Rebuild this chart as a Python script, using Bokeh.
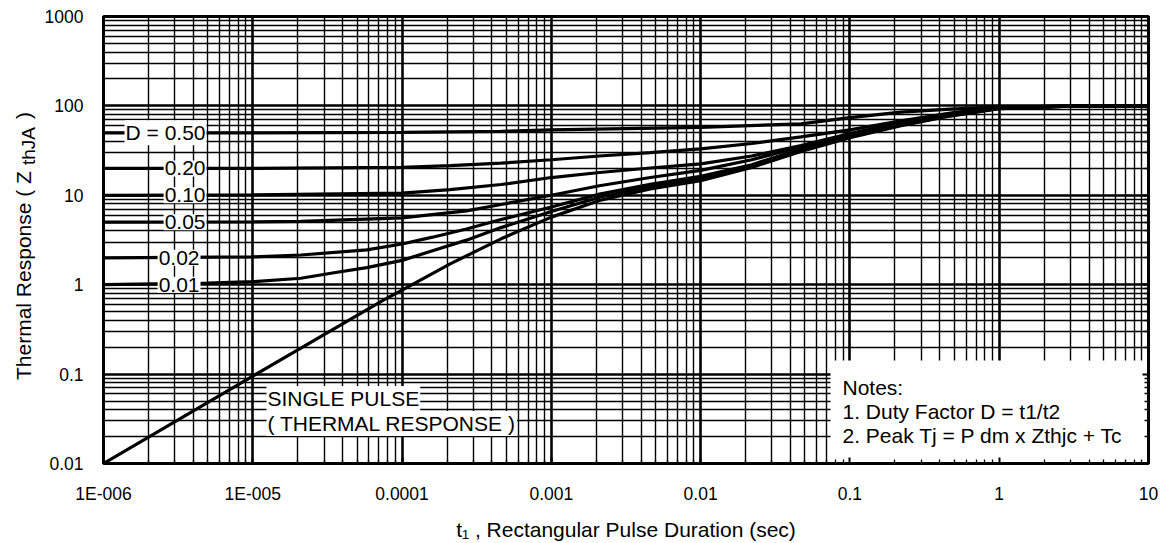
from bokeh.plotting import figure
from bokeh.layouts import row
from bokeh.models import FixedTicker, Label, LogAxis, BoxAnnotation, CustomJSTickFormatter, Range1d
from bokeh.embed import file_html
from bokeh.resources import INLINE
import math

# ---------------- data ----------------
t_d50 = [1e-6, 1e-5, 1e-4, 4.6e-4, 1e-3, 1e-2, 4.7e-2, 0.1, 0.22, 0.47, 1, 3, 10]
z_d50 = [50, 50, 50.5, 52, 54, 57.5, 63, 74, 85, 92, 97, 99.5, 100]

t_d20 = [1e-6, 1e-5, 1e-4, 2.1e-4, 4.6e-4, 1e-3, 2.1e-3, 4.6e-3, 1e-2, 2.2e-2, 4.7e-2, 0.1, 0.22, 0.47, 1, 3, 10]
z_d20 = [20, 20, 20.5, 21.5, 22.9, 25, 27.5, 30, 33, 38, 45, 54, 68, 83, 96, 99.5, 100]

t_d10 = [1e-6, 1e-5, 1e-4, 2.1e-4, 4.6e-4, 1e-3, 2.1e-3, 4.6e-3, 1e-2, 2.2e-2, 4.7e-2, 0.1, 0.22, 0.47, 1, 3, 10]
z_d10 = [10, 10.1, 10.6, 11.6, 13.2, 15.8, 18, 20.2, 22.5, 27.5, 36, 49, 65, 82, 96, 99.5, 100]

t_d05 = [1e-6, 1e-5, 2.1e-5, 1e-4, 2.7e-4, 4.6e-4, 1e-3, 2.1e-3, 4.6e-3, 1e-2, 2.2e-2, 4.7e-2, 0.1, 0.22, 0.47, 1, 3, 10]
z_d05 = [5, 5.05, 5.1, 5.6, 6.7, 7.9, 10, 12.8, 15.8, 19, 25, 35, 47, 63, 80, 95, 99.5, 100]

t_d02 = [1e-6, 1e-5, 2.1e-5, 5.8e-5, 1e-4, 1.6e-4, 2.7e-4, 4.6e-4, 1e-3, 2.1e-3, 4.6e-3, 1e-2, 2.2e-2, 4.7e-2, 0.1, 0.22, 0.47, 1, 3, 10]
z_d02 = [2, 2.05, 2.15, 2.45, 2.85, 3.4, 4.2, 5.36, 7.4, 10.3, 13.3, 16.3, 22, 33, 45.5, 62, 79, 94.5, 99.5, 100]

t_d01 = [1e-6, 5e-6, 1e-5, 2.1e-5, 3.5e-5, 5.8e-5, 1e-4, 1.6e-4, 2.7e-4, 4.6e-4, 1e-3, 2.1e-3, 4.6e-3, 1e-2, 2.2e-2, 4.7e-2, 0.1, 0.22, 0.47, 1, 3, 10]
z_d01 = [1, 1.04, 1.08, 1.18, 1.36, 1.55, 1.87, 2.4, 3.15, 4.35, 6.6, 9.5, 12.6, 15.4, 21, 32, 45, 61, 78, 94, 99.5, 100]

t_single = [1e-6, 1e-5, 7.4e-5, 1e-4, 2.1e-4, 4.6e-4, 1e-3, 2.1e-3, 4.6e-3, 1e-2, 2.2e-2, 4.7e-2, 0.1, 0.22, 0.47, 1, 3, 10]
z_single = [0.01, 0.095, 0.665, 0.87, 1.71, 3.26, 5.7, 8.75, 11.8, 14.6, 20.5, 31, 44, 60, 77, 93, 99.5, 100]

duty_labels = ["D = 0.50", "0.20", "0.10", "0.05", "0.02", "0.01"]
duty_levels = [50, 20, 10, 5, 2, 1]

x_ticks = [1e-6, 1e-5, 1e-4, 1e-3, 1e-2, 1e-1, 1, 10]
x_tick_labels = ["1E-006", "1E-005", "0.0001", "0.001", "0.01", "0.1", "1", "10"]
y_ticks = [0.01, 0.1, 1, 10, 100, 1000]
y_tick_labels = ["0.01", "0.1", "1", "10", "100", "1000"]

single_label = ["SINGLE PULSE", "( THERMAL RESPONSE )"]
notes_lines = ["Notes:", "1. Duty Factor D = t1/t2", "2. Peak Tj = P dm x Zthjc + Tc"]

x_title = "t\u2081 , Rectangular Pulse Duration (sec)"
y_title = ["Thermal Response ( Z", "thJA", ")"]

# ---------------- layout ----------------
W, H = 1169, 543
YW = 40            # strip at the left for the y title
FL, FR, FT, FB = 103, 1148, 16, 463   # frame in page pixels
XMIN, XMAX, YMIN, YMAX = 1e-6, 10.0, 0.01, 1000.0
FONT = "Liberation Sans"


def dx(px):
    return 10 ** (math.log10(XMIN) + (px - FL) / (FR - FL) * (math.log10(XMAX) - math.log10(XMIN)))


def dy(py):
    return 10 ** (math.log10(YMAX) - (py - FT) / (FB - FT) * (math.log10(YMAX) - math.log10(YMIN)))


def minors(majors):
    out = []
    for m in majors[:-1]:
        for k in range(2, 10):
            out.append(m * k)
    return out


p = figure(width=W - YW, height=H, x_axis_type="log", y_axis_type="log",
           x_range=Range1d(XMIN, XMAX), y_range=Range1d(YMIN, YMAX),
           output_backend="svg", toolbar_location=None, title=None,
           min_border_left=FL - YW, min_border_right=W - FR,
           min_border_top=FT, min_border_bottom=H - FB)
p.background_fill_color = "white"
p.border_fill_color = "white"
p.outline_line_color = "black"
p.outline_line_width = 3

xt = FixedTicker(ticks=x_ticks, minor_ticks=minors(x_ticks))
yt = FixedTicker(ticks=y_ticks, minor_ticks=minors(y_ticks))

xa = p.xaxis[0]
xa.ticker = xt
xa.major_label_overrides = dict(zip(x_ticks, x_tick_labels))
xa.major_label_text_font = FONT
xa.major_label_text_font_size = "17.5px"
xa.major_label_text_color = "black"
xa.major_label_standoff = 20
xa.major_tick_in = 6
xa.major_tick_out = 0
xa.minor_tick_in = 4
xa.minor_tick_out = 0
xa.major_tick_line_width = 2
xa.minor_tick_line_width = 1.3
xa.axis_line_width = 3
xa.axis_label = x_title
xa.axis_label_text_font = FONT
xa.axis_label_text_font_size = "21px"
xa.axis_label_text_font_style = "normal"
xa.axis_label_text_color = "black"
xa.axis_label_standoff = 11

ya = p.yaxis[0]
ya.ticker = yt
ya.major_label_overrides = dict(zip(y_ticks, y_tick_labels))
ya.major_label_text_font = FONT
ya.major_label_text_font_size = "17.5px"
ya.major_label_text_color = "black"
ya.major_label_standoff = 20
ya.major_tick_in = 0
ya.major_tick_out = 0
ya.minor_tick_in = 0
ya.minor_tick_out = 0
ya.axis_line_width = 3
ya.axis_label = None

ra = LogAxis(ticker=yt, formatter=CustomJSTickFormatter(code="return ''"))
ra.major_tick_in = 6
ra.major_tick_out = 0
ra.minor_tick_in = 4
ra.minor_tick_out = 0
ra.major_tick_line_width = 2
ra.minor_tick_line_width = 1.3
ra.axis_line_width = 3
ra.major_label_standoff = 0
p.add_layout(ra, "right")

for g, tk in ((p.xgrid[0], xt), (p.ygrid[0], yt)):
    g.ticker = tk
    g.grid_line_color = "black"
    g.grid_line_width = 2.6
    g.minor_grid_line_color = "black"
    g.minor_grid_line_width = 1.4

# notes area (white patch over the grid)
p.add_layout(BoxAnnotation(left=dx(830), right=XMAX, top=dy(360), bottom=YMIN,
                           fill_color="white", fill_alpha=1.0, line_color=None,
                           level="glyph"))

# curves
for t, z in ((t_d50, z_d50), (t_d20, z_d20), (t_d10, z_d10), (t_d05, z_d05),
             (t_d02, z_d02), (t_d01, z_d01), (t_single, z_single)):
    p.line(t, z, line_color="black", line_width=3.2)

# duty labels
label_right = [206, 206, 206, 206, 200, 200]
for txt, lvl, xr in zip(duty_labels, duty_levels, label_right):
    p.add_layout(Label(x=dx(xr), y=lvl, text=txt, text_align="right", text_baseline="middle",
                       text_font=FONT, text_font_size="21px", text_color="black",
                       background_fill_color="white", padding=1))

for i, txt in enumerate(single_label):
    p.add_layout(Label(x=dx(266), y=dy(398 + 25 * i), text=txt, text_align="left",
                       text_baseline="middle", text_font=FONT, text_font_size="21px",
                       text_color="black", background_fill_color="white", padding=1))

for i, txt in enumerate(notes_lines):
    p.add_layout(Label(x=dx(842), y=dy(387 + 24 * i), text=txt, text_align="left",
                       text_baseline="middle", text_font=FONT, text_font_size="21px",
                       text_color="black"))

# y title strip; its frame is aligned by the row with the main frame (page y FT..FB)
yf = figure(width=YW, height=H, x_range=Range1d(0, YW), y_range=Range1d(FB, FT),
            output_backend="svg", toolbar_location=None, title=None,
            x_axis_location=None, y_axis_location=None,
            min_border_left=0, min_border_right=0, min_border_top=FT, min_border_bottom=H - FB)
yf.outline_line_color = None
yf.grid.visible = False
yf.background_fill_color = "white"
yf.border_fill_color = "white"

ang = math.pi / 2
y_sizes = [21, 19, 21]
y_len = [215, 40 + 6, 8]
y_shift = [0, 5, 0]
pos = 245 + sum(y_len) / 2
for txt, fs, ln, sh in zip(y_title, y_sizes, y_len, y_shift):
    yf.add_layout(Label(x=23 + sh, y=pos, text=txt, angle=ang, text_align="left",
                        text_baseline="alphabetic", text_font=FONT,
                        text_font_size=f"{fs}px", text_color="black"))
    pos -= ln

layout = row(yf, p, spacing=0)
open("out.html", "w").write(file_html(layout, INLINE))
